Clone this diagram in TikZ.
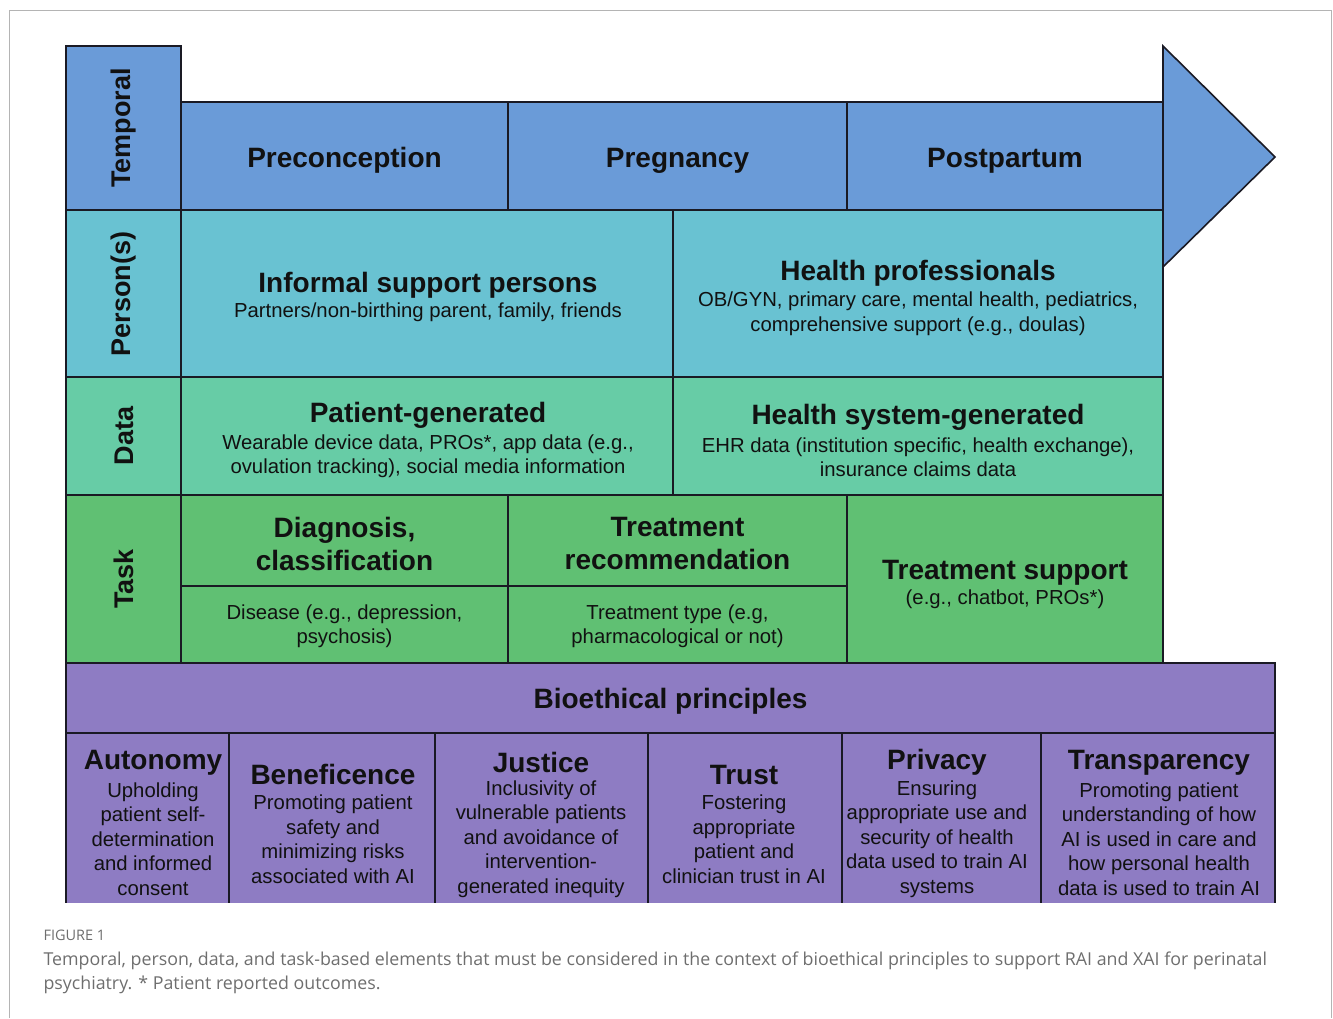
\documentclass[tikz,border=0pt]{standalone}
\usepackage{fontspec}
\setmainfont{Liberation Sans}
\newfontfamily\capfont{Open Sans}

\definecolor{edge}{HTML}{1A1A24}
\definecolor{ink}{HTML}{111111}
\definecolor{tempblue}{HTML}{6A9BD8}
\definecolor{personcyan}{HTML}{69C2D2}
\definecolor{datamint}{HTML}{67CCA6}
\definecolor{taskgreen}{HTML}{60C073}
\definecolor{ethicpurple}{HTML}{8E7CC3}
\definecolor{framegray}{HTML}{B4B4B4}
\definecolor{capgray}{HTML}{6E6E6E}

\tikzset{
  cell/.style={draw=edge, line width=1.6pt},
  rowlab/.style={rotate=90, text=ink, font=\fontsize{27}{30}\selectfont\bfseries},
  title/.style={align=center, text=ink, yshift=-2.5pt, font=\fontsize{28}{33}\selectfont\bfseries},
  detail/.style={align=center, text=ink, yshift=-1pt, font=\fontsize{20.3}{24.5}\selectfont},
  caption/.style={anchor=west, align=left, text=capgray, font=\capfont\fontsize{17.8}{24}\selectfont},
}

\begin{document}
\begin{tikzpicture}[x=1pt, y=-1pt]
\useasboundingbox (0,0) rectangle (1333,1018);
\draw[framegray, line width=1pt] (9.5,1018) -- (9.5,10.5) -- (1331.5,10.5) -- (1331.5,1018);

% time arrow head
\draw[cell, fill=tempblue, line join=miter] (1163,46) -- (1275,157) -- (1163,267) -- cycle;

% temporal row
\draw[cell, fill=tempblue] (66,46) rectangle (181,210);
\draw[cell, fill=tempblue] (181,102) rectangle (508,210);
\draw[cell, fill=tempblue] (508,102) rectangle (847,210);
\draw[cell, fill=tempblue] (847,102) rectangle (1163,210);
\node[rowlab] (temporal) at (124,128) {Temporal};
\node[title] (precon) at (344.5,158) {Preconception};
\node[title] (preg) at (677.5,158) {Pregnancy};
\node[title] (postp) at (1005,158) {Postpartum};

% person(s) row
\draw[cell, fill=personcyan] (66,210) rectangle (181,377);
\draw[cell, fill=personcyan] (181,210) rectangle (673,377);
\draw[cell, fill=personcyan] (673,210) rectangle (1163,377);
\node[rowlab] (persons) at (124,294) {Person(s)};
\node[title] (informal) at (428,283) {Informal support persons};
\node[detail] (informaltxt) at (428,311) {Partners/non-birthing parent, family, friends};
\node[title] (healthpro) at (918,271) {Health professionals};
\node[detail] (healthprotxt) at (918,312.5) {OB/GYN, primary care, mental health, pediatrics,\\comprehensive support (e.g., doulas)};

% data row
\draw[cell, fill=datamint] (66,377) rectangle (181,495);
\draw[cell, fill=datamint] (181,377) rectangle (673,495);
\draw[cell, fill=datamint] (673,377) rectangle (1163,495);
\node[rowlab] (data) at (124,436) {Data};
\node[title] (patgen) at (428,413) {Patient-generated};
\node[detail] (patgentxt) at (428,455) {Wearable device data, PROs*, app data (e.g.,\\ovulation tracking), social media information};
\node[title] (sysgen) at (918,415) {Health system-generated};
\node[detail] (sysgentxt) at (918,456) {EHR data (institution specific, health exchange),\\insurance claims data};

% task row
\draw[cell, fill=taskgreen] (66,495) rectangle (181,663);
\draw[cell, fill=taskgreen] (181,495) rectangle (508,586);
\draw[cell, fill=taskgreen] (181,586) rectangle (508,663);
\draw[cell, fill=taskgreen] (508,495) rectangle (847,586);
\draw[cell, fill=taskgreen] (508,586) rectangle (847,663);
\draw[cell, fill=taskgreen] (847,495) rectangle (1163,663);
\node[rowlab] (task) at (124,579) {Task};
\node[title] (diag) at (344.5,541) {Diagnosis,\\classification};
\node[detail] (disease) at (344.5,625) {Disease (e.g., depression,\\psychosis)};
\node[title] (treatrec) at (677.5,541) {Treatment\\recommendation};
\node[detail] (treattype) at (677.5,625) {Treatment type (e.g,\\pharmacological or not)};
\node[title] (treatsup) at (1005,570) {Treatment support};
\node[detail] (treatsuptxt) at (1005,598) {(e.g., chatbot, PROs*)};

% bioethical principles
\draw[cell, fill=ethicpurple] (66,663) rectangle (1275,733);
\node[title] (bioeth) at (670.5,699) {Bioethical principles};
\fill[ethicpurple] (66,733) rectangle (1275,903);
\draw[edge, line width=1.6pt] (66,733) -- (1275,733);
\foreach \x in {66,229,435,648,842,1041,1275}
  \draw[edge, line width=1.6pt] (\x,733) -- (\x,903);

\node[title] (autonomy) at (153,760) {Autonomy};
\node[detail] (autonomytxt) at (153,838) {Upholding\\patient self-\\determination\\and informed\\consent};
\node[title] (benef) at (333,772) {Beneficence};
\node[detail] (beneftxt) at (333,838) {Promoting patient\\safety and\\minimizing risks\\associated with AI};
\node[title] (justice) at (541,760) {Justice};
\node[detail] (justicetxt) at (541,838) {Inclusivity of\\vulnerable patients\\and avoidance of\\intervention-\\generated inequity};
\node[title] (trust) at (744,772) {Trust};
\node[detail] (trusttxt) at (744,838) {Fostering\\appropriate\\patient and\\clinician trust in AI};
\node[title] (privacy) at (937,760) {Privacy};
\node[detail] (privacytxt) at (937,838) {Ensuring\\appropriate use and\\security of health\\data used to train AI\\systems};
\node[title] (transp) at (1159,760) {Transparency};
\node[detail] (transptxt) at (1159,838) {Promoting patient\\understanding of how\\AI is used in care and\\how personal health\\data is used to train AI};

% caption
\node[caption, font=\capfont\fontsize{14.5}{16}\selectfont] (fig) at (40,935) {FIGURE 1};
\node[caption] (captxt) at (40,972.5) {Temporal, person, data, and task-based elements that must be considered in the context of bioethical principles to support RAI and XAI for perinatal\\psychiatry. * Patient reported outcomes.};
\end{tikzpicture}
\end{document}
